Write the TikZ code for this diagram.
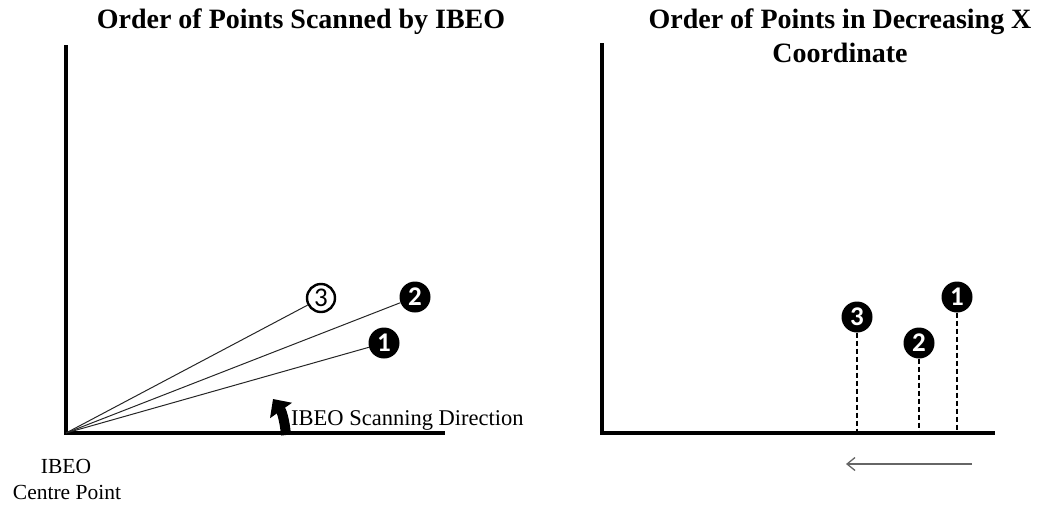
\documentclass[tikz,border=0pt]{standalone}
\usepackage{fontspec}
\setmainfont{Liberation Serif}
\newfontfamily\numfont{Carlito}
\usetikzlibrary{arrows.meta}
\begin{document}
\begin{tikzpicture}[x=1pt,y=-1pt,
  axis/.style={line width=4.5pt},
  ray/.style={line width=1pt,black!85},
  drop/.style={line width=1.3pt,dash pattern=on 5pt off 3pt},
  title/.style={font=\bfseries\fontsize{28}{34}\selectfont,anchor=base,inner sep=0pt},
  label/.style={font=\fontsize{21.5}{27}\selectfont,anchor=base,inner sep=0pt},
  blackpt/.style={circle,fill=black,minimum size=31pt,inner sep=0pt,text=white,font=\numfont\bfseries\fontsize{27}{27}\selectfont},
  whitept/.style={circle,draw=black,line width=2.4pt,fill=white,minimum size=28pt,inner sep=0pt,text=black,font=\numfont\fontsize{27}{27}\selectfont}]
\useasboundingbox (0,0) rectangle (1038,504);

% ---------- left panel ----------
\node[title] (t1) at (301,28) {Order of Points Scanned by IBEO};
\coordinate (ly) at (66,45);
\coordinate (lo) at (66,433);
\coordinate (lx) at (445,433);
\draw[axis] (ly) -- (66,435) (64,433) -- (lx);

\node[whitept] (a3) at (321,298) {3};
\node[blackpt] (a2) at (415,297) {2};
\node[blackpt] (a1) at (384,343) {1};
\draw[ray] (lo) -- (a3);
\draw[ray] (lo) -- (a2);
\draw[ray] (lo) -- (a1);

\coordinate (sa) at (286,435);
\coordinate (sb) at (273,399);
\draw[line width=10pt,-{Triangle[length=14pt,width=26pt]}] (sa) to[out=95,in=-55] (sb);
\node[label,anchor=base west,font=\fontsize{22.5}{27}\selectfont] (scan) at (291,425) {IBEO Scanning Direction};

\node[label] (c1) at (66,473) {IBEO};
\node[label] (c2) at (67,499) {Centre Point};

% ---------- right panel ----------
\node[title] (t2) at (840,28) {Order of Points in Decreasing X};
\node[title] (t3) at (840,62) {Coordinate};
\coordinate (ry) at (602,43);
\coordinate (rx) at (995,433);
\draw[axis] (ry) -- (602,435) (600,433) -- (rx);

\node[blackpt] (b1) at (957,297) {1};
\node[blackpt] (b2) at (919,343) {2};
\node[blackpt] (b3) at (857,317) {3};
\coordinate (f1) at (957,431);
\coordinate (f2) at (919,431);
\coordinate (f3) at (857,431);
\draw[drop] (b1.south) -- (f1);
\draw[drop] (b2.south) -- (f2);
\draw[drop] (b3.south) -- (f3);

\coordinate (ar) at (972,464);
\coordinate (al) at (846,464);
\draw[line width=1.3pt,black!60,-{Straight Barb[length=8pt,width=13pt,line width=1.3pt]}] (ar) -- (al);
\end{tikzpicture}
\end{document}
